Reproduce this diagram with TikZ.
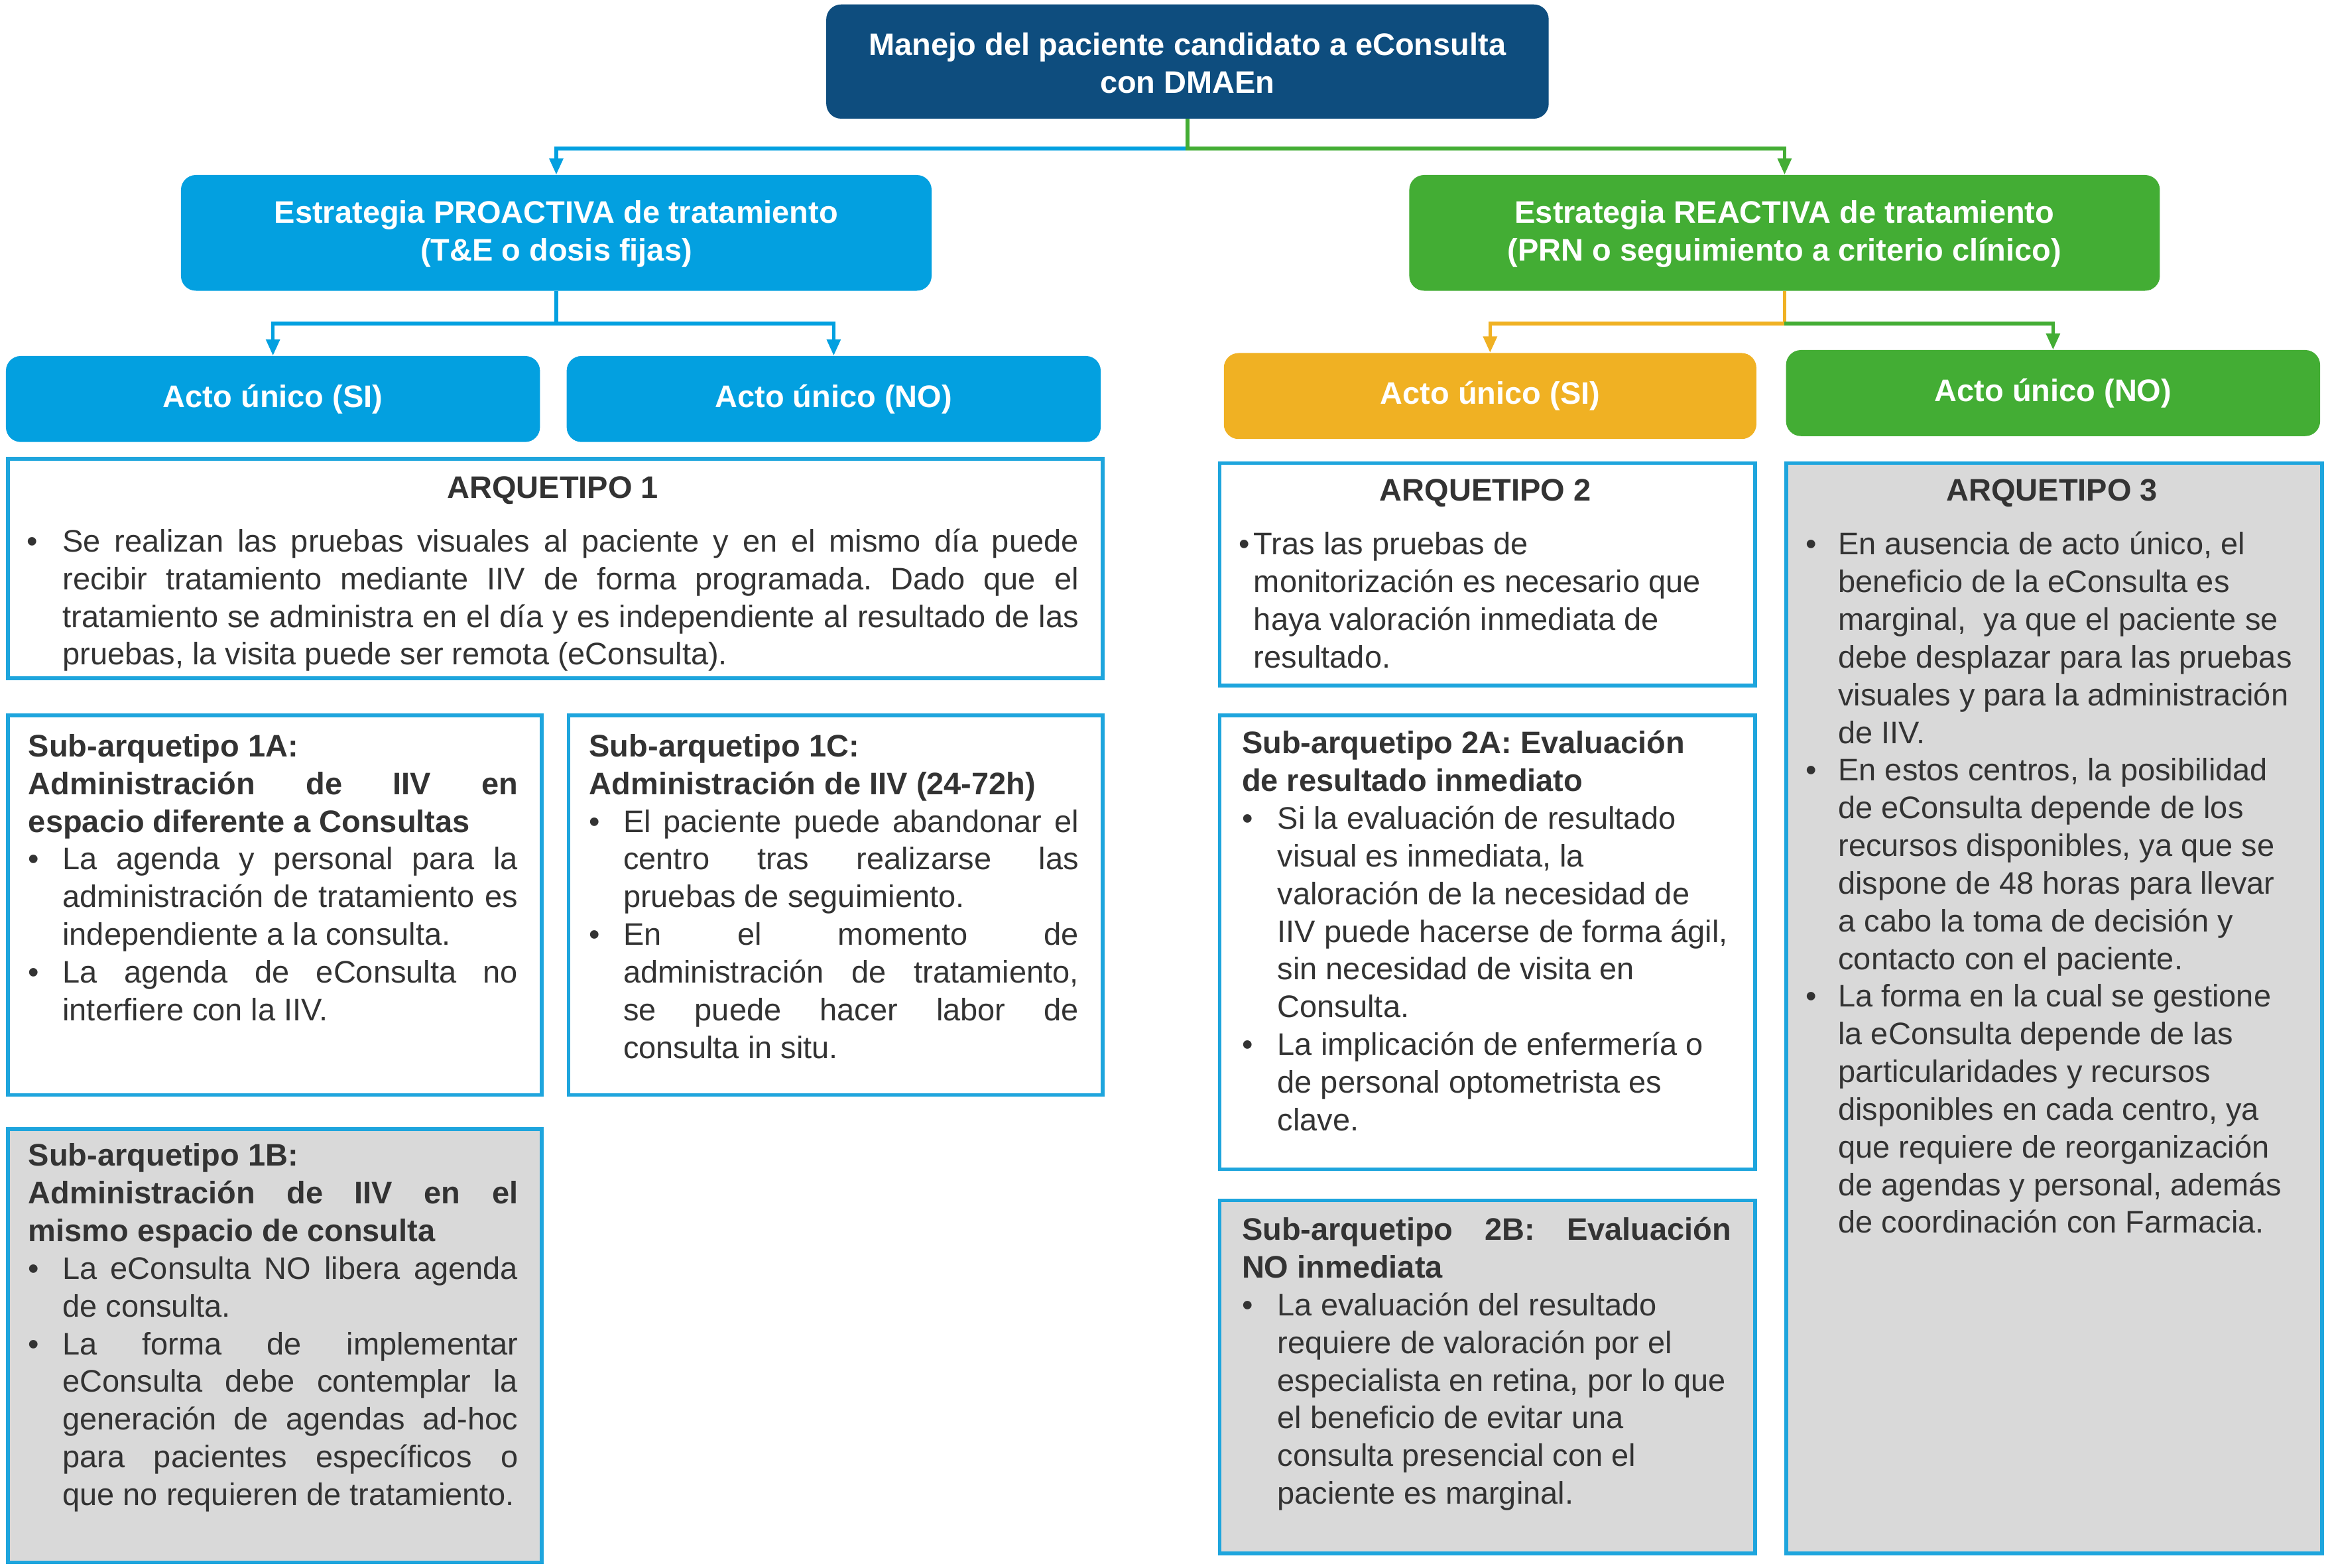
\documentclass[tikz,border=0pt]{standalone}
\usepackage{fontspec}
\setmainfont{Liberation Sans}
\usetikzlibrary{arrows.meta}
\definecolor{dblue}{HTML}{0E4D7E}
\definecolor{cblue}{HTML}{03A0E0}
\definecolor{cgreen}{HTML}{43AD34}
\definecolor{corange}{HTML}{F0B123}
\definecolor{lgrey}{HTML}{D9D9D9}
\definecolor{txt}{HTML}{333333}
\definecolor{bord}{HTML}{1EA5DD}
\newcommand\bulbox[1]{\makebox[#1][l]{\textbullet}}
\newcommand\indbox[1]{\hspace*{#1}}
\newcommand\jline[2]{\makebox[#1][s]{#2}}
\frenchspacing
\begin{document}
\frenchspacing
\begin{tikzpicture}[x=1pt,y=-1pt,
  every node/.style={font=\fontsize{21pt}{25.4pt}\selectfont},
  hdr/.style={rounded corners=10pt, inner sep=0pt, text=white, font=\fontsize{21pt}{25.4pt}\selectfont\bfseries, align=center},
  tbox/.style={draw=bord, line width=2.5pt, inner sep=0pt, anchor=north west},
  tbody/.style={anchor=north west, inner sep=0pt, align=left, text=txt},
  conn/.style={line width=2.5pt, -{Triangle[length=11pt,width=9pt]}},
]
\fill[white] (0,0) rectangle (1568,1057);
\useasboundingbox (0,0) rectangle (1568,1057);

% header boxes
\node[hdr, fill=dblue, minimum width=487pt, minimum height=77pt] (title) at (800.5,41.5) {\rule{0pt}{17pt}Manejo del paciente candidato a eConsulta\\con DMAEn};
\node[hdr, fill=cblue, minimum width=506pt, minimum height=78pt] (pro) at (375,157) {\rule{0pt}{17pt}Estrategia PROACTIVA de tratamiento\\(T\&E o dosis fijas)};
\node[hdr, fill=cgreen, minimum width=506pt, minimum height=78pt] (rea) at (1203,157) {\rule{0pt}{17pt}Estrategia REACTIVA de tratamiento\\(PRN o seguimiento a criterio clínico)};
\node[hdr, fill=cblue, minimum width=360pt, minimum height=58pt] (a1si) at (184,269) {\rule[-2pt]{0pt}{17pt}Acto único (SI)};
\node[hdr, fill=cblue, minimum width=360pt, minimum height=58pt] (a1no) at (562,269) {\rule[-2pt]{0pt}{17pt}Acto único (NO)};
\node[hdr, fill=corange, minimum width=359pt, minimum height=58pt] (a2si) at (1004.5,267) {\rule[-2pt]{0pt}{17pt}Acto único (SI)};
\node[hdr, fill=cgreen, minimum width=360pt, minimum height=58pt] (a2no) at (1384,265) {\rule[-2pt]{0pt}{17pt}Acto único (NO)};

% connectors
\coordinate (j0) at (800.5,100);
\coordinate (j1) at (375,218);
\coordinate (j2) at (1203,218);
\draw[conn, cblue] (j0) -| (pro.north);
\draw[conn, cgreen] (title.south) -- (j0) -| (rea.north);
\draw[conn, cblue] (pro.south) -- (j1) -| (a1si.north);
\draw[conn, cblue] (j1) -| (a1no.north);
\draw[conn, corange] (rea.south) -- (j2) -| (a2si.north);
\draw[conn, cgreen] (j2) -| (a2no.north);

% frames
\node[tbox, fill=white, minimum width=738pt, minimum height=148pt] (arq1) at (4,308) {};
\node[tbox, fill=white, minimum width=360pt, minimum height=256pt] (s1a) at (4,481) {};
\node[tbox, fill=white, minimum width=360pt, minimum height=256pt] (s1c) at (382,481) {};
\node[tbox, fill=lgrey, minimum width=360pt, minimum height=292pt] (s1b) at (4,760) {};
\node[tbox, fill=white, minimum width=361pt, minimum height=150pt] (arq2) at (821,311) {};
\node[tbox, fill=white, minimum width=361pt, minimum height=306pt] (s2a) at (821,481) {};
\node[tbox, fill=lgrey, minimum width=361pt, minimum height=238pt] (s2b) at (821,808) {};
\node[tbox, fill=lgrey, minimum width=361pt, minimum height=735pt] (arq3) at (1203,311) {};

% texts
\node[tbody] (arq1t) at (18,316.5) {\rule{0pt}{19pt}\makebox[709pt][c]{\bfseries ARQUETIPO 1}\\[11pt]
\bulbox{24pt}\jline{685pt}{Se realizan las pruebas visuales al paciente y en el mismo día puede}\\
\indbox{24pt}\jline{685pt}{recibir tratamiento mediante IIV de forma programada. Dado que el}\\
\indbox{24pt}\jline{685pt}{tratamiento se administra en el día y es independiente al resultado de las}\\
\indbox{24pt}pruebas, la visita puede ser remota (eConsulta).};

\node[tbody] (s1at) at (19,491) {\rule{0pt}{19pt}\bfseries Sub-arquetipo 1A:\\
\jline{330pt}{\bfseries Administración de IIV en}\\
\bfseries espacio diferente a Consultas\\
\bulbox{23pt}\jline{307pt}{La agenda y personal para la}\\
\indbox{23pt}\jline{307pt}{administración de tratamiento es}\\
\indbox{23pt}independiente a la consulta.\\
\bulbox{23pt}\jline{307pt}{La agenda de eConsulta no}\\
\indbox{23pt}interfiere con la IIV.};

\node[tbody] (s1ct) at (397,491) {\rule{0pt}{19pt}\bfseries Sub-arquetipo 1C:\\
\bfseries Administración de IIV (24-72h)\\
\bulbox{23pt}\jline{307pt}{El paciente puede abandonar el}\\
\indbox{23pt}\jline{307pt}{centro tras realizarse las}\\
\indbox{23pt}pruebas de seguimiento.\\
\bulbox{23pt}\jline{307pt}{En el momento de}\\
\indbox{23pt}\jline{307pt}{administración de tratamiento,}\\
\indbox{23pt}\jline{307pt}{se puede hacer labor de}\\
\indbox{23pt}consulta in situ.};

\node[tbody] (s1bt) at (19,767) {\rule{0pt}{19pt}\bfseries Sub-arquetipo 1B:\\
\jline{330pt}{\bfseries Administración de IIV en el}\\
\bfseries mismo espacio de consulta\\
\bulbox{23pt}\jline{307pt}{La eConsulta NO libera agenda}\\
\indbox{23pt}de consulta.\\
\bulbox{23pt}\jline{307pt}{La forma de implementar}\\
\indbox{23pt}\jline{307pt}{eConsulta debe contemplar la}\\
\indbox{23pt}\jline{307pt}{generación de agendas ad-hoc}\\
\indbox{23pt}\jline{307pt}{para pacientes específicos o}\\
\indbox{23pt}que no requieren de tratamiento.};

\node[tbody] (arq2t) at (835,318.5) {\rule{0pt}{19pt}\makebox[332pt][c]{\bfseries ARQUETIPO 2}\\[11pt]
\bulbox{10pt}Tras las pruebas de\\
\indbox{10pt}monitorización es necesario que\\
\indbox{10pt}haya valoración inmediata de\\
\indbox{10pt}resultado.};

\node[tbody] (s2at) at (837,489) {\rule{0pt}{19pt}\bfseries Sub-arquetipo 2A: Evaluación\\
\bfseries de resultado inmediato\\
\bulbox{24pt}Si la evaluación de resultado\\
\indbox{24pt}visual es inmediata, la\\
\indbox{24pt}valoración de la necesidad de\\
\indbox{24pt}IIV puede hacerse de forma ágil,\\
\indbox{24pt}sin necesidad de visita en\\
\indbox{24pt}Consulta.\\
\bulbox{24pt}La implicación de enfermería o\\
\indbox{24pt}de personal optometrista es\\
\indbox{24pt}clave.};

\node[tbody] (s2bt) at (837,817) {\rule{0pt}{19pt}\jline{330pt}{\bfseries Sub-arquetipo 2B: Evaluación}\\
\bfseries NO inmediata\\
\bulbox{24pt}La evaluación del resultado\\
\indbox{24pt}requiere de valoración por el\\
\indbox{24pt}especialista en retina, por lo que\\
\indbox{24pt}el beneficio de evitar una\\
\indbox{24pt}consulta presencial con el\\
\indbox{24pt}paciente es marginal.};

\node[tbody] (arq3t) at (1217,318.5) {\rule{0pt}{19pt}\makebox[332pt][c]{\bfseries ARQUETIPO 3}\\[11pt]
\bulbox{22pt}En ausencia de acto único, el\\
\indbox{22pt}beneficio de la eConsulta es\\
\indbox{22pt}marginal,\ \ ya que el paciente se\\
\indbox{22pt}debe desplazar para las pruebas\\
\indbox{22pt}visuales y para la administración\\
\indbox{22pt}de IIV.\\
\bulbox{22pt}En estos centros, la posibilidad\\
\indbox{22pt}de eConsulta depende de los\\
\indbox{22pt}recursos disponibles, ya que se\\
\indbox{22pt}dispone de 48 horas para llevar\\
\indbox{22pt}a cabo la toma de decisión y\\
\indbox{22pt}contacto con el paciente.\\
\bulbox{22pt}La forma en la cual se gestione\\
\indbox{22pt}la eConsulta depende de las\\
\indbox{22pt}particularidades y recursos\\
\indbox{22pt}disponibles en cada centro, ya\\
\indbox{22pt}que requiere de reorganización\\
\indbox{22pt}de agendas y personal, además\\
\indbox{22pt}de coordinación con Farmacia.};
\end{tikzpicture}
\end{document}
